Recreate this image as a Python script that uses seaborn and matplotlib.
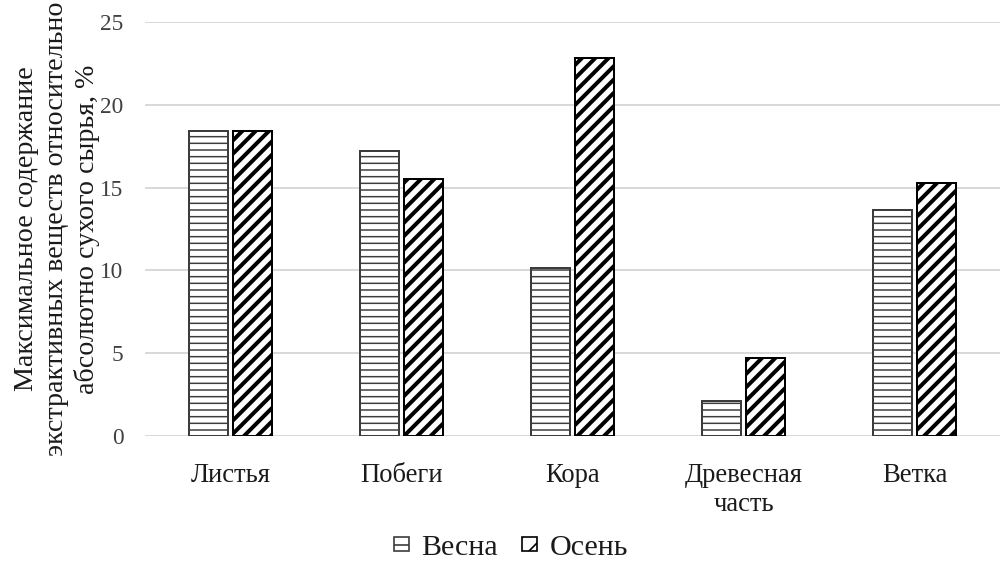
import matplotlib
matplotlib.use("Agg")
import matplotlib.pyplot as plt
from matplotlib.patches import Patch
import seaborn as sns
import pandas as pd

# Extractive content by plant part, spring vs autumn
categories = ["Листья", "Побеги", "Кора", "Древесная\nчасть", "Ветка"]
seasons = ["Весна", "Осень"]
spring = [18.4, 17.2, 10.15, 2.1, 13.65]
autumn = [18.4, 15.5, 22.8, 4.7, 15.3]
yticks = [0, 5, 10, 15, 20, 25]
ylabel = ("Максимальное содержание\n"
          "экстрактивных веществ относительно\n"
          "абсолютно сухого сырья, %")

df = pd.DataFrame({
    "part": categories * 2,
    "season": [seasons[0]] * len(categories) + [seasons[1]] * len(categories),
    "value": spring + autumn,
})

sns.set_theme(style="white")
plt.rcParams["font.family"] = ["Liberation Serif", "DejaVu Serif"]

DPI = 120
fig = plt.figure(figsize=(1000 / DPI, 564 / DPI), dpi=DPI)
ax = fig.add_axes([0.145, 1 - 436 / 564, 0.855, 414 / 564])

sns.barplot(data=df, x="part", y="value", hue="season", order=categories,
            hue_order=seasons, width=0.515, gap=0.1, palette=["white", "white"],
            legend=False, ax=ax, errorbar=None)

styles = {
    0: dict(hatch="---", edge="#3c3c3c", hlw=0.9, lw=1.2),
    1: dict(hatch="///", edge="black", hlw=2.4, lw=1.2),
}
for i, cont in enumerate(ax.containers):
    st = styles[i]
    for bar in cont:
        bar.set_facecolor("white")
        bar.set_edgecolor(st["edge"])
        bar.set_linewidth(st["lw"])
        bar.set_hatch(st["hatch"])
        bar.set_hatch_linewidth(st["hlw"])

ax.set_ylim(0, 25)
ax.set_xlim(-0.5, len(categories) - 0.5)
ax.set_yticks(yticks)
ax.set_yticklabels([str(t) for t in yticks], fontsize=14, color="#404040")
ax.tick_params(axis="x", labelsize=16, pad=16, length=0)
ax.tick_params(axis="y", pad=13, length=0)
for lab in ax.get_xticklabels():
    lab.set_color("#1a1a1a")
    lab.set_linespacing(1.25)
ax.set_xlabel("")
ax.set_ylabel(ylabel, fontsize=16.8, color="#1a1a1a", linespacing=1.27, labelpad=0)
ax.yaxis.grid(True, color="#d9d9d9", linewidth=1.2)
ax.set_axisbelow(True)
for s in ax.spines.values():
    s.set_visible(False)

handles = []
for i, name in enumerate(seasons):
    st = styles[i]
    p = Patch(facecolor="white", edgecolor=st["edge"],
              hatch="--" if i == 0 else "//", linewidth=1.0, label=name)
    handles.append(p)
leg = fig.legend(handles=handles, loc="center", bbox_to_anchor=(0.511, 1 - 548 / 564),
                 ncol=2, frameon=False, fontsize=18, handlelength=0.5, handleheight=0.36,
                 handletextpad=0.42, columnspacing=0.8)
for txt in leg.get_texts():
    txt.set_color("#1a1a1a")

fig.savefig("out.png", dpi=DPI, facecolor="white")
